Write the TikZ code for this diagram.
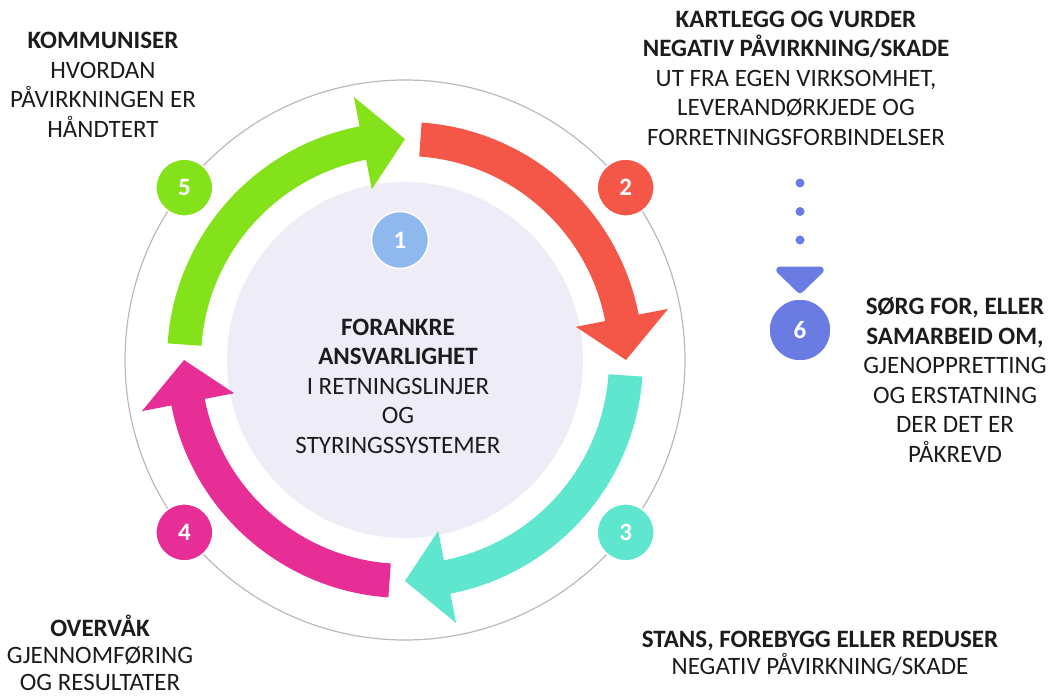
\documentclass[tikz,border=0pt]{standalone}
\usepackage{fontspec}
\setmainfont{Carlito}
\usetikzlibrary{arrows.meta}
\definecolor{grn}{RGB}{132,226,26}
\definecolor{rd}{RGB}{244,86,72}
\definecolor{cyn}{RGB}{94,230,206}
\definecolor{pnk}{RGB}{230,46,150}
\definecolor{blu}{RGB}{143,185,238}
\definecolor{vio}{RGB}{106,124,226}
\definecolor{disk}{RGB}{238,237,247}
\definecolor{ink}{RGB}{28,28,28}
\tikzset{% styles for the numbered badges and the text blocks
   badge/.style={circle, fill=#1, draw=white, line width=1.5pt, minimum size=57pt,
                 inner sep=0pt, text=white, font=\fontsize{25}{25}\selectfont\bfseries},
   txtblock/.style={align=center, inner sep=0pt, text=ink,
                    font=\fontsize{25}{29.5}\selectfont},
   % a curved arrow on the ring, from angle #1 (tail) to angle #2 (tip)
   pics/ringarrow/.style args={#1,#2,#3}{
     code={\fill[#3] (#1:204) arc[start angle=#1, end angle=#2+11, radius=204]
              -- ({#2+11}:174) -- (#2:221) -- ({#2+11}:268) -- ({#2+11}:238)
              arc[start angle=#2+11, end angle=#1, radius=238] -- cycle;
     }
   }
}
\begin{document}
\begin{tikzpicture}[x=1pt, y=1pt]
   \useasboundingbox (0,0) rectangle (1057,699);
   \begin{scope}[shift={(405,339)}]
     \coordinate (ctr) at (0,0);
     \fill[disk] (ctr) circle (178);
     \draw[black!27, line width=1.2pt] (ctr) circle (280);
     \foreach \a/\b/\c in {176/90/grn, 86/0/rd, -4/-90/cyn, -94/-180/pnk} {
        \pic at (ctr) {ringarrow={\a,\b,\c}};
     }
     \node[badge=blu] (b1) at (-5,120) {1};
     \node[badge=rd]  (b2) at (38:280) {2};
     \node[badge=cyn] (b3) at (-38:280) {3};
     \node[badge=pnk] (b4) at (-142:280) {4};
     \node[badge=grn] (b5) at (142:280) {5};
     \node[txtblock] (tmid) at (-7,-26)
        {\bfseries FORANKRE\\ \bfseries ANSVARLIGHET\\ I RETNINGSLINJER\\ OG\\ STYRINGSSYSTEMER};
   \end{scope}
   % step 6 beside the ring
   \node[badge=vio, minimum size=62pt] (b6) at (800,369) {6};
   \coordinate (dtop) at (800,516);
   \draw[vio, line width=9pt, line cap=round, dash pattern=on 0pt off 28.5pt,
         -{Triangle[width=56pt, length=28pt, round=false]}, shorten >=5pt] (dtop) -- (b6.north);
   % texts
   \node[txtblock] (t5) at (103,614)
      {\bfseries KOMMUNISER\\ HVORDAN\\ PÅVIRKNINGEN ER\\ HÅNDTERT};
   \node[txtblock] (t2) at (796,621)
      {\bfseries KARTLEGG OG VURDER\\ \bfseries NEGATIV PÅVIRKNING/SKADE\\ UT FRA EGEN VIRKSOMHET,\\
       LEVERANDØRKJEDE OG\\ FORRETNINGSFORBINDELSER};
   \node[txtblock] (t6) at (955,319)
      {\bfseries SØRG FOR, ELLER\\ \bfseries SAMARBEID OM,\\ GJENOPPRETTING\\ OG ERSTATNING\\
       DER DET ER\\ PÅKREVD};
   \node[txtblock, font=\fontsize{25}{27}\selectfont] (t4) at (100,46)
      {\bfseries OVERVÅK\\ GJENNOMFØRING\\ OG RESULTATER};
   \node[txtblock, font=\fontsize{25}{27}\selectfont] (t3) at (820,46)
      {\bfseries STANS, FOREBYGG ELLER REDUSER\\ NEGATIV PÅVIRKNING/SKADE};
\end{tikzpicture}
\end{document}
